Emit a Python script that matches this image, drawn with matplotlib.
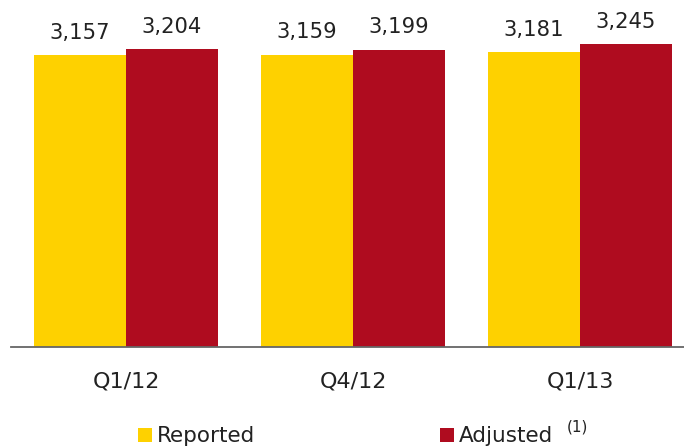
import matplotlib
matplotlib.use("Agg")
import matplotlib.pyplot as plt
from matplotlib.patches import Rectangle
import numpy as np

# Quarterly figures
quarters = ["Q1/12", "Q4/12", "Q1/13"]
reported = [3157, 3159, 3181]
adjusted = [3204, 3199, 3245]

series_names = ["Reported", "Adjusted"]
colors = ["#FED100", "#AF0C1F"]
text_color = "#222222"

plt.rcParams["font.family"] = ["DejaVu Sans"]

W, H = 684, 446
fig = plt.figure(figsize=(W / 100, H / 100), dpi=100)

# Axes placed in pixel units, bottom spine at y=347 px from top
left_px, right_px, base_px = 11, 684, 347
ax = fig.add_axes([left_px / W, 1 - base_px / H, (right_px - left_px) / W, base_px / H])

x = np.arange(len(quarters))
bw = 0.405
bars_r = ax.bar(x - bw / 2, reported, width=bw, color=colors[0], linewidth=0)
bars_a = ax.bar(x + bw / 2, adjusted, width=bw, color=colors[1], linewidth=0)

ax.set_xlim(-0.507, 2.458)
ax.set_ylim(820, 3596)

for bars, vals in ((bars_r, reported), (bars_a, adjusted)):
    for b, v in zip(bars, vals):
        ax.annotate(f"{v:,}", (b.get_x() + b.get_width() / 2, v),
                    xytext=(0, 16), textcoords="offset points",
                    ha="center", va="center", fontsize=15.2, color=text_color)

for s in ("top", "right", "left"):
    ax.spines[s].set_visible(False)
ax.spines["bottom"].set_color("#666666")
ax.spines["bottom"].set_linewidth(1.3)
ax.set_yticks([])
ax.set_xticks(x)
ax.set_xticklabels(quarters, fontsize=16, color=text_color)
ax.tick_params(axis="x", length=0, pad=18)

# Legend drawn in figure pixel coordinates
def px(xp, yp):
    return xp / W, 1 - yp / H

sq = 14
for (sx, sy), col, name in (((138, 428), colors[0], series_names[0]),
                            ((440, 428), colors[1], series_names[1])):
    fx, fy = px(sx, sy + sq)
    fig.add_artist(Rectangle((fx, fy), sq / W, sq / H, transform=fig.transFigure,
                             facecolor=col, edgecolor="none"))
    tx, ty = px(sx + 19, sy + sq)
    fig.text(tx, ty, name, fontsize=15.5, color=text_color, ha="left", va="baseline")

sx, sy = px(567, 431)
fig.text(sx, sy, "(1)", fontsize=11, color=text_color, ha="left", va="baseline")

fig.savefig("out.png", dpi=100)
